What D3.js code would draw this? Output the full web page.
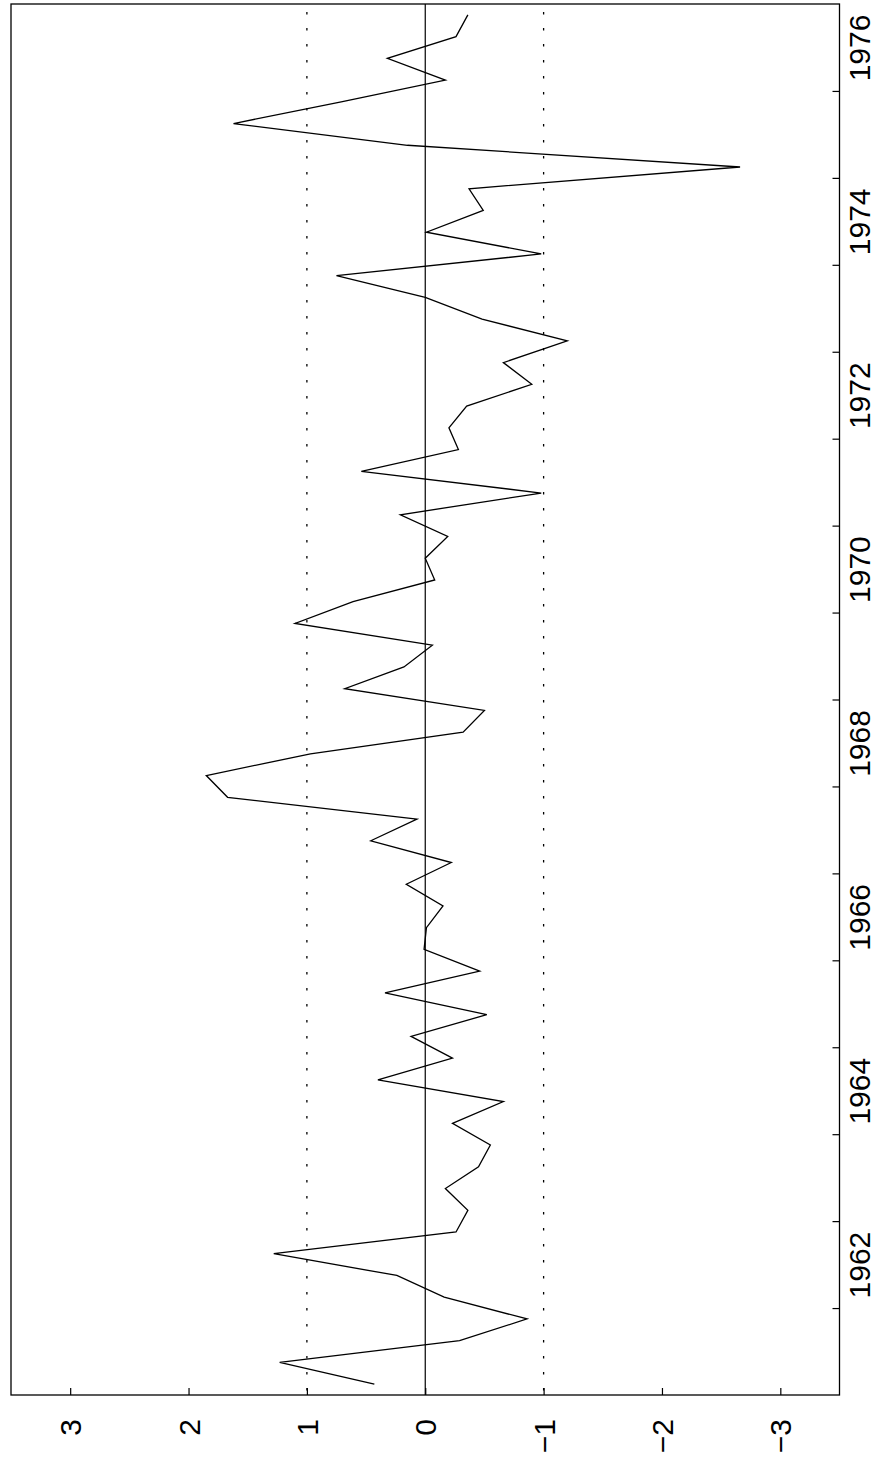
<!DOCTYPE html>
<html>
<head>
<meta charset="utf-8">
<script src="https://cdn.jsdelivr.net/npm/d3@7"></script>
<style>
  body { margin: 0; background: #fff; }
  svg { display: block; }
  .tick text { font-family: "Liberation Sans", Arial, sans-serif; font-size: 30px; fill: #000; }
</style>
</head>
<body>
<svg width="880" height="1465"></svg>
<script>
// quarterly series, 1961Q1 .. 1976Q4
const startYear = 1961;
const values = [
   0.43,  1.23, -0.29, -0.86, -0.16,  0.24,  1.28, -0.26,
  -0.36, -0.17, -0.45, -0.55, -0.23, -0.66,  0.40, -0.23,
   0.12, -0.52,  0.34, -0.46,  0.01, -0.01, -0.15,  0.16,
  -0.22,  0.46,  0.07,  1.67,  1.85,  0.97, -0.32, -0.50,
   0.68,  0.18, -0.06,  1.10,  0.61, -0.08,  0.00, -0.19,
   0.21, -0.98,  0.54, -0.28, -0.20, -0.35, -0.90, -0.66,
  -1.20, -0.48,  0.00,  0.75, -0.98, -0.01, -0.49, -0.37,
  -2.66,  0.15,  1.62,  0.71, -0.17,  0.32, -0.26, -0.36
];
const valueTicks = [3, 2, 1, 0, -1, -2, -3];
const bandLines = [1, -1];
const yearTicks = d3.range(1962, 1977);
const yearLabels = [1962, 1964, 1966, 1968, 1970, 1972, 1974, 1976];

const data = values.map((v, i) => ({ t: startYear + (i + 0.5) / 4, v: v }));

const svg = d3.select("svg");
const m = { left: 11, right: 839.5, top: 4, bottom: 1395 };

// chart is drawn turned on its side: time runs up, values run right-to-left
const x = d3.scaleLinear().domain([3.5, -3.5]).range([m.left, m.right]);
const y = d3.scaleLinear().domain([1961, 1977]).range([m.bottom, m.top]);

svg.append("rect")
    .attr("x", m.left).attr("y", m.top)
    .attr("width", m.right - m.left).attr("height", m.bottom - m.top)
    .attr("fill", "none").attr("stroke", "#000").attr("stroke-width", 1.3);

svg.append("line")
    .attr("x1", x(0)).attr("x2", x(0))
    .attr("y1", m.top).attr("y2", m.bottom)
    .attr("stroke", "#000").attr("stroke-width", 1.2);

svg.selectAll("line.band")
  .data(bandLines)
  .enter()
  .append("line")
    .attr("class", "band")
    .attr("x1", d => x(d)).attr("x2", d => x(d))
    .attr("y1", m.top + 8).attr("y2", m.bottom)
    .attr("stroke", "#000").attr("stroke-width", 1.3)
    .attr("stroke-dasharray", "2.5,13.5");

const line = d3.line()
    .x(d => x(d.v))
    .y(d => y(d.t));

svg.append("path")
    .datum(data)
    .attr("fill", "none")
    .attr("stroke", "#000")
    .attr("stroke-width", 1.3)
    .attr("stroke-linejoin", "miter")
    .attr("d", line);

// value axis along the bottom
const bottomAxis = svg.append("g")
    .attr("transform", `translate(0,${m.bottom})`)
    .call(d3.axisBottom(x).tickValues(valueTicks).tickFormat(d3.format("d"))
      .tickSizeInner(-7).tickSizeOuter(0));
bottomAxis.select(".domain").remove();
bottomAxis.selectAll(".tick line").attr("stroke-width", 1.2);
bottomAxis.selectAll(".tick text")
    .attr("transform", "rotate(-90)")
    .attr("x", -24).attr("y", 0).attr("dy", "0.35em")
    .attr("text-anchor", "end");

// time axis on the right
const rightAxis = svg.append("g")
    .attr("transform", `translate(${m.right},0)`)
    .call(d3.axisRight(y).tickValues(yearTicks).tickSizeInner(-7).tickSizeOuter(0).tickFormat(""));
rightAxis.select(".domain").remove();
rightAxis.selectAll(".tick line").attr("stroke-width", 1.2);

const labelAxis = svg.append("g")
    .attr("transform", `translate(${m.right},0)`)
    .call(d3.axisRight(y).tickValues(yearLabels.map(d => d + 0.5)).tickSize(0).tickFormat(d => String(Math.floor(d))));
labelAxis.select(".domain").remove();
labelAxis.selectAll(".tick text")
    .attr("transform", "rotate(-90)")
    .attr("x", 0).attr("y", 30.5).attr("dy", 0)
    .attr("text-anchor", "middle");
</script>
</body>
</html>
